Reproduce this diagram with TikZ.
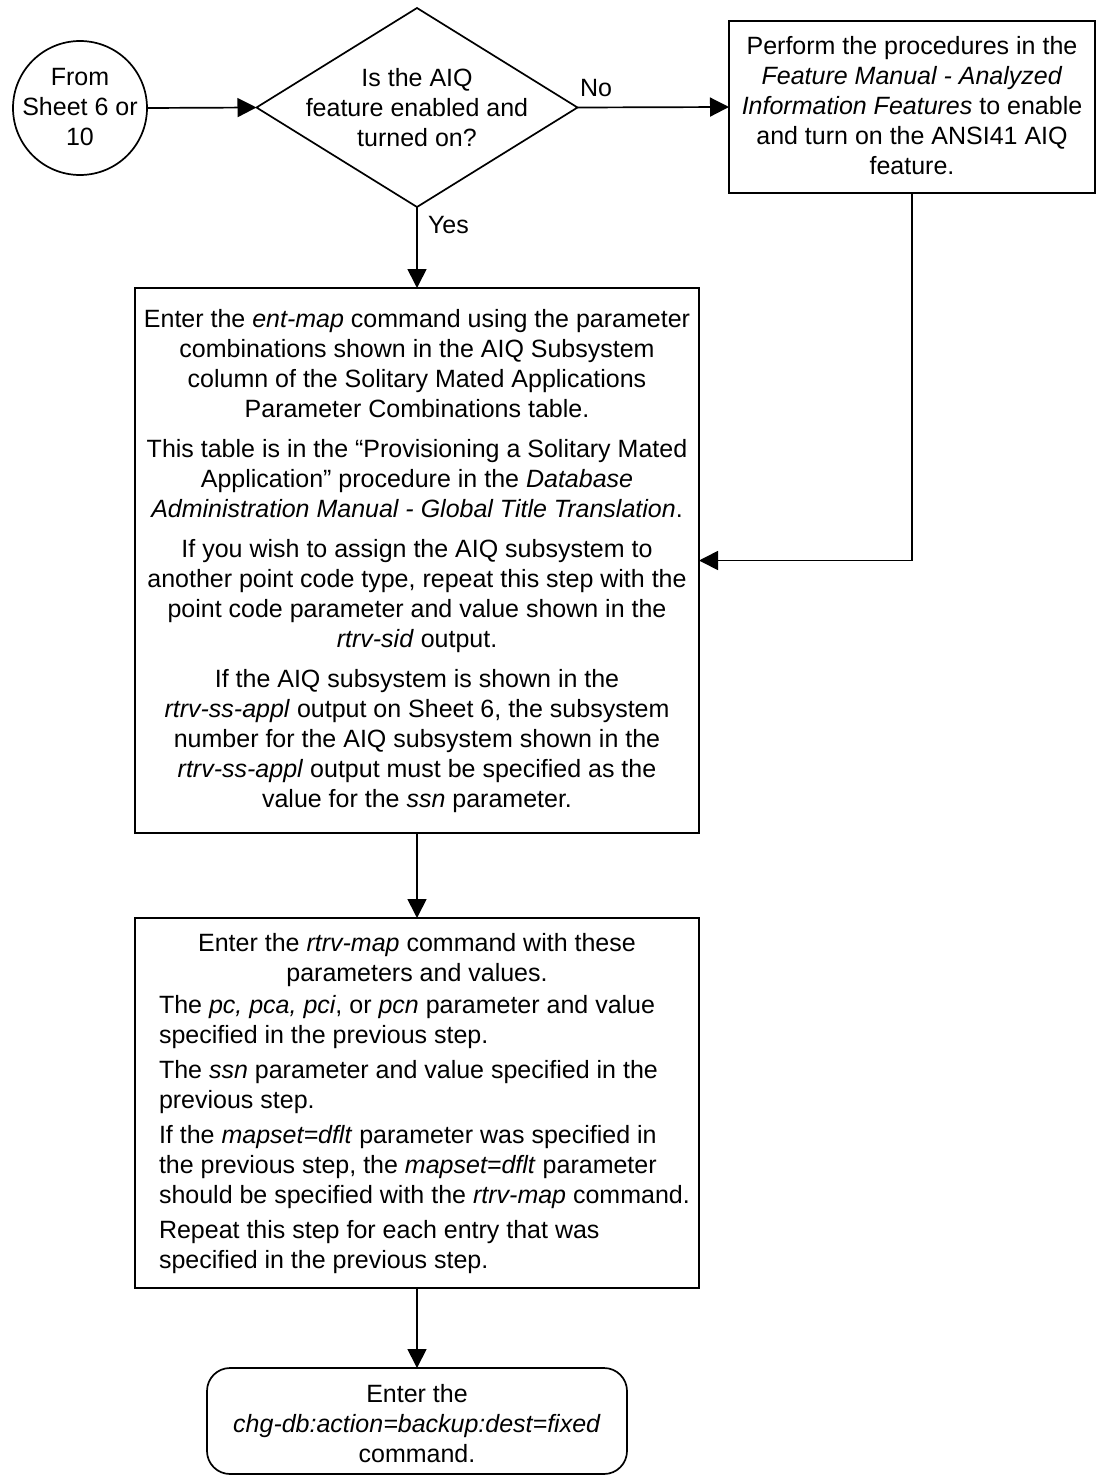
\documentclass[tikz,border=0pt]{standalone}
\usepackage{fontspec}
\setmainfont{Liberation Sans}
\usetikzlibrary{arrows.meta,shapes.geometric}
\begin{document}
\begin{tikzpicture}[x=1pt,y=-1pt,line width=1.7pt,
  >={Triangle[length=19pt,width=19pt]},
  every node/.style={inner sep=0pt,outer sep=0pt,font=\fontsize{25}{30}\selectfont},
  shapebox/.style={draw,rectangle,line width=1.7pt},
  txt/.style={align=center,anchor=north},
  ltxt/.style={align=left,anchor=north west},
  lbl/.style={anchor=base west}]
\useasboundingbox (0,0) rectangle (1103,1477);
% shapes
\node[draw,circle,minimum size=134pt] (c) at (80,108) {};
\node[draw,diamond,minimum width=321pt,minimum height=199pt] (d) at (417,107.5) {};
\node[shapebox,minimum width=366pt,minimum height=172pt] (rb) at (912,107) {};
\node[shapebox,minimum width=564pt,minimum height=545pt] (b1) at (417,560.5) {};
\node[shapebox,minimum width=564pt,minimum height=370pt] (b2) at (417,1103) {};
\node[draw,rounded corners=23pt,minimum width=420pt,minimum height=106pt] (rd) at (417,1421) {};
% texts
\node[txt] (ct) at (80,68) {From\\Sheet 6 or\\10};
\node[txt] (dt) at (417,68.5) {Is the AIQ\\feature enabled and\\turned on?};
\node[txt] (rbt) at (912,36) {Perform the procedures in the\\\textit{Feature Manual - Analyzed}\\\textit{Information Features} to enable\\and turn on the ANSI41 AIQ\\feature.};
\node[txt] (b1t) at (417,309.7) {Enter the \textit{ent-map} command using the parameter\\combinations shown in the AIQ Subsystem\\column of the Solitary Mated Applications\\Parameter Combinations table.\\[10pt]
This table is in the “Provisioning a Solitary Mated\\Application” procedure in the \textit{Database}\\\textit{Administration Manual - Global Title Translation}.\\[10pt]
If you wish to assign the AIQ subsystem to\\another point code type, repeat this step with the\\point code parameter and value shown in the\\\textit{rtrv-sid} output.\\[10pt]
If the AIQ subsystem is shown in the\\\textit{rtrv-ss-appl} output on Sheet 6, the subsystem\\number for the AIQ subsystem shown in the\\\textit{rtrv-ss-appl} output must be specified as the\\value for the \textit{ssn} parameter.};
\node[txt] (b2h) at (417,933.7) {Enter the \textit{rtrv-map} command with these\\parameters and values.};
\node[ltxt] (b2t) at (159,995.7) {The \textit{pc, pca, pci}, or \textit{pcn} parameter and value\\specified in the previous step.\\[5pt]
The \textit{ssn} parameter and value specified in the\\previous step.\\[5pt]
If the \textit{mapset=dflt} parameter was specified in\\the previous step, the \textit{mapset=dflt} parameter\\should be specified with the \textit{rtrv-map} command.\\[5pt]
Repeat this step for each entry that was\\specified in the previous step.};
\node[txt] (rdt) at (417,1384) {Enter the\\\textit{chg-db:action=backup:dest=fixed}\\command.};
% labels
\node[lbl] (no) at (580,97) {No};
\node[lbl] (yes) at (428,233) {Yes};
% connectors
\draw[->] (c.east) -- (d.west);
\draw[->] (d.east) -- (rb.west);
\draw[->] (d.south) -- (b1.north);
\draw[->] (rb.south) |- (b1.east);
\draw[->] (b1.south) -- (b2.north);
\draw[->] (b2.south) -- (rd.north);
\end{tikzpicture}
\end{document}
